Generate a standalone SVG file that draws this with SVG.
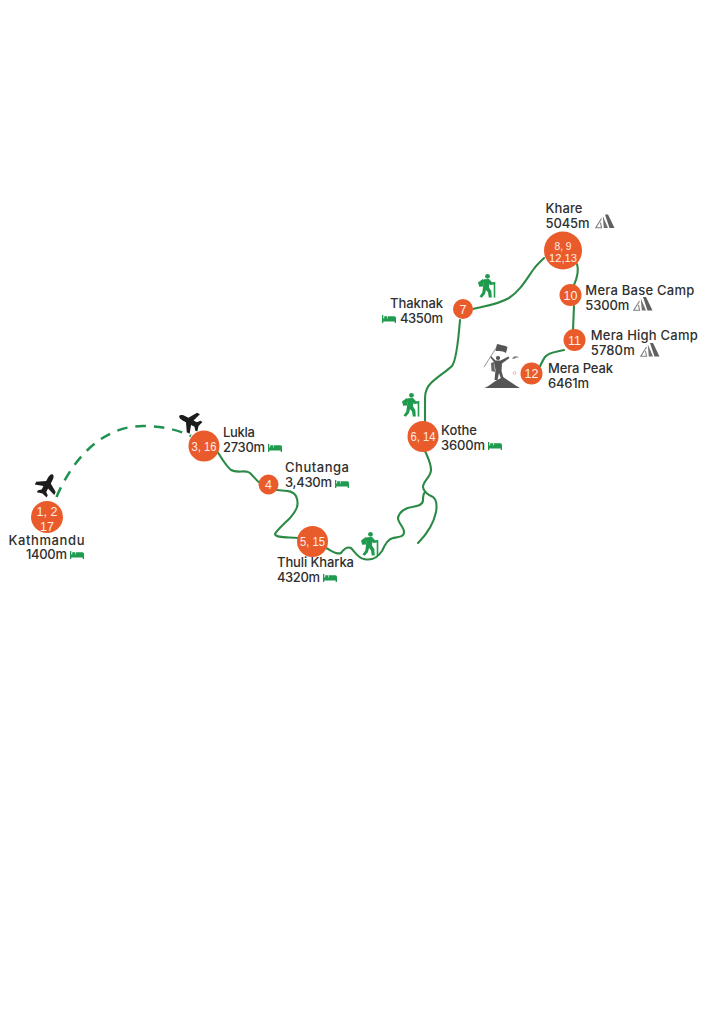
<svg xmlns="http://www.w3.org/2000/svg" width="724" height="1024" viewBox="0 0 724 1024">
<style>
.route{fill:none;stroke:#2b8a45;stroke-width:2.1;stroke-linecap:round;stroke-linejoin:round}
.dash{stroke:#1f9150;stroke-width:2.5;stroke-dasharray:10.5 8;stroke-linecap:butt}
.stop{fill:#ea5b2b}
.num{font-family:"Liberation Sans",Arial,sans-serif;font-size:12.5px;fill:#fdeee6;text-anchor:middle;font-weight:400}
.tight{font-size:10.2px}
.lab{font-family:Inter,"Liberation Sans",sans-serif;font-size:13px;fill:#2f2f2f;font-weight:500}
</style>
<defs>
<symbol id="bed" viewBox="0 0 14 8" width="14" height="8" overflow="visible"><path fill="#1f9a4e" d="M0 0H1.300V3.600H2.200V1.200H5.200V3.600H5.800V1.200H12.400Q14 1.200 14 3V8H12.700V6.400H1.300V8H0Z"/></symbol>
<symbol id="tent" viewBox="0 0 20 15" width="20" height="15" overflow="visible"><path fill="#5f5f5f" d="M10 0H13L19.500 13.500H14.500Z"/><path fill="#707070" d="M7.800 1.500 13 13.500H8.800Z"/><path fill="none" stroke="#808080" stroke-width="1.100" d="M6.500 4 .8 13.200H6.500L5.500 8"/></symbol>
<symbol id="hiker" viewBox="0 0 18 24" width="18" height="24" overflow="visible"><g fill="#1f9a4e"><circle cx="9.500" cy="2.300" r="2.400"/><path d="M0 8.500 4.800 5 6.400 6.200 5 12.500 1.200 12.800Z"/><path d="M6 5.200 11 5 14 8.300 16 8.200V10.500L12.500 11 11.400 10 11 13.500 13.300 17 13.800 23.500H10.800L10 18.500 8 16 7 20 3.800 23.800 1.500 22.400 4.300 18.400Z"/></g><path fill="none" stroke="#1f9a4e" stroke-width="1.600" d="M16.500 8V23.600"/></symbol>
<symbol id="plane" viewBox="-12 -12 24 24" width="24" height="24" overflow="visible"><path fill="#1c1c1c" d="M0-12C1.900-12 2.600-9 2.600-6.500V-3.200L11 2.200V5.400L2.600 2.600V6.500L5.500 8.800V11.200L0 9.700-5.500 11.200V8.800L-2.600 6.500V2.600L-11 5.400V2.200L-2.600-3.200V-6.500C-2.600-9-1.900-12 0-12Z"/></symbol>
</defs>
<rect width="724" height="1024" fill="#ffffff"/>
<g id="connectors">
<path class="route dash" d="M56.500 497C74 456 104 426 143 426C160 426 176 429 191 436"/>
<path class="route" d="M217 451C222 459 226 466 231 470C238 474 245 469 250 473C254 477 257 481 260 483"/>
<path class="route" d="M277 490C285 491 293 490 296 496C300 505 296 511 290 518C284 524 277 530 275 534C275 538 288 537 298 538"/>
<path class="route" d="M326 548C332 551 337 555 341 553C344 549 347 546 351 548C355 552 358 558 364 559C372 561 378 557 382 551C385 544 388 539 393 538C399 537 404 537 404 532C404 527 398 523 398 518C399 512 405 508 412 507C418 506 423 505 423 500C423 496 423 494 425 492"/>
<path class="route" d="M425 451C428 458 431 463 431 470C431 477 423 481 423 487C423 491 428 495 433 497C437 500 437 506 436 512C434 522 429 532 418 543"/>
<path class="route" d="M425 421V398C425 391 427 387 431 383C438 376 447 371 452 366C456 361 458 345 460 320"/>
<path class="route" d="M473 309C484 306 497 305 509 298C520 291 526 280 533 270C537 264 541 261 544 258"/>
<path class="route" d="M577 264C579 270 578 276 574 285"/>
<path class="route" d="M574 306L573 330"/>
<path class="route" d="M564 350C556 352 549 352 545 357C542 361 541 365 539 368"/>
</g>
<g id="kathmandu"><circle class="stop" cx="47" cy="517" r="16"/><text class="num" x="47" y="515.500">1, 2</text><text class="num" x="47" y="530.500">17</text><text class="lab" x="8.500" y="544.500" textLength="76">Kathmandu</text><text class="lab" x="26" y="559" textLength="41">1400m</text><use href="#bed" x="70" y="551"/></g>
<g id="lukla"><circle class="stop" cx="204" cy="446" r="15.500"/><text class="num" x="204" y="450.500" textLength="25" lengthAdjust="spacingAndGlyphs">3, 16</text><text class="lab" x="223" y="437" textLength="32">Lukla</text><text class="lab" x="223" y="452" textLength="42">2730m</text><use href="#bed" x="268" y="444"/></g>
<g id="chutanga"><circle class="stop" cx="268.500" cy="484.500" r="10"/><text class="num" x="268.500" y="489">4</text><text class="lab" x="285" y="472" textLength="64">Chutanga</text><text class="lab" x="285" y="487" textLength="47">3,430m</text><use href="#bed" x="335" y="480"/></g>
<g id="thuli-kharka"><circle class="stop" cx="312.500" cy="541.500" r="15.500"/><text class="num" x="312.500" y="546" textLength="25" lengthAdjust="spacingAndGlyphs">5, 15</text><text class="lab" x="277" y="567" textLength="77">Thuli Kharka</text><text class="lab" x="277" y="582" textLength="43">4320m</text><use href="#bed" x="323" y="574"/></g>
<g id="kothe"><circle class="stop" cx="423" cy="436.500" r="15.500"/><text class="num" x="423" y="441" textLength="25" lengthAdjust="spacingAndGlyphs">6, 14</text><text class="lab" x="441" y="435" textLength="36">Kothe</text><text class="lab" x="441" y="450" textLength="44">3600m</text><use href="#bed" x="488" y="442"/></g>
<g id="thaknak"><circle class="stop" cx="463" cy="309" r="10"/><text class="num" x="463" y="313.500">7</text><text class="lab" x="390" y="308" textLength="53">Thaknak</text><text class="lab" x="400" y="323" textLength="43">4350m</text><use href="#bed" x="382" y="315"/></g>
<g id="khare"><circle class="stop" cx="563" cy="250.500" r="19"/><text class="num tight" x="563" y="250">8, 9</text><text class="num tight" x="563" y="261.700" textLength="28" lengthAdjust="spacingAndGlyphs">12,13</text><text class="lab" x="545.500" y="213" textLength="37">Khare</text><text class="lab" x="545.500" y="228" textLength="44">5045m</text><use href="#tent" x="595" y="214.500"/></g>
<g id="mera-base-camp"><circle class="stop" cx="570.500" cy="295" r="11"/><text class="num" x="570.500" y="299.500">10</text><text class="lab" x="585.300" y="295" textLength="109">Mera Base Camp</text><text class="lab" x="585.300" y="310" textLength="44">5300m</text><use href="#tent" x="633" y="297"/></g>
<g id="mera-high-camp"><circle class="stop" cx="574.500" cy="340" r="11"/><text class="num" x="574.500" y="344.500">11</text><text class="lab" x="590.700" y="340" textLength="107">Mera High Camp</text><text class="lab" x="590.700" y="355" textLength="44">5780m</text><use href="#tent" x="640" y="343"/></g>
<g id="mera-peak"><circle class="stop" cx="531.500" cy="373.500" r="11"/><text class="num" x="531.500" y="378">12</text><text class="lab" x="548" y="373" textLength="65">Mera Peak</text><text class="lab" x="548" y="388" textLength="41">6461m</text></g>
<g id="plane-1"><use href="#plane" x="-12" y="-12" transform="translate(47 485) rotate(28)"/></g>
<g id="plane-2"><use href="#plane" x="-12" y="-12" transform="translate(190 421.500) rotate(-62)"/></g>
<g id="hiker-1"><use href="#hiker" x="478" y="274"/></g>
<g id="hiker-2"><use href="#hiker" x="402" y="393"/></g>
<g id="hiker-3"><use href="#hiker" x="361" y="532"/></g>
<g id="summit">
<path fill="#555" d="M484.500 388C490 386 494 381 499 379L503 377C508 380 514 385 520 388Z"/>
<path fill="#666" d="M491 363 494 362 495 372 491.500 371Z"/>
<path fill="#555" d="M494 362 490 357 491 356 495.500 360.500H500.500L508.500 356.500 509.500 358 502 363.500 501.500 371 504 380H501.500L499 373 497.500 380H494.500L495.500 370Z"/>
<circle cx="498" cy="358" r="2.100" fill="#555"/>
<path fill="none" stroke="#888" stroke-width=".9" d="M484 367 498 345"/>
<path fill="#555" d="M497 344C500 345 504 345 507.500 347L506 353C503 351 500 351 495.500 351Z"/>
<path fill="#777" d="M512 358.500Q515 354.500 519 357.500H516.500Q514 359.500 512 358.500Z"/>
<circle cx="514.500" cy="373" r="1.400" fill="none" stroke="#d9a090" stroke-width=".7"/>
</g>
</svg>
